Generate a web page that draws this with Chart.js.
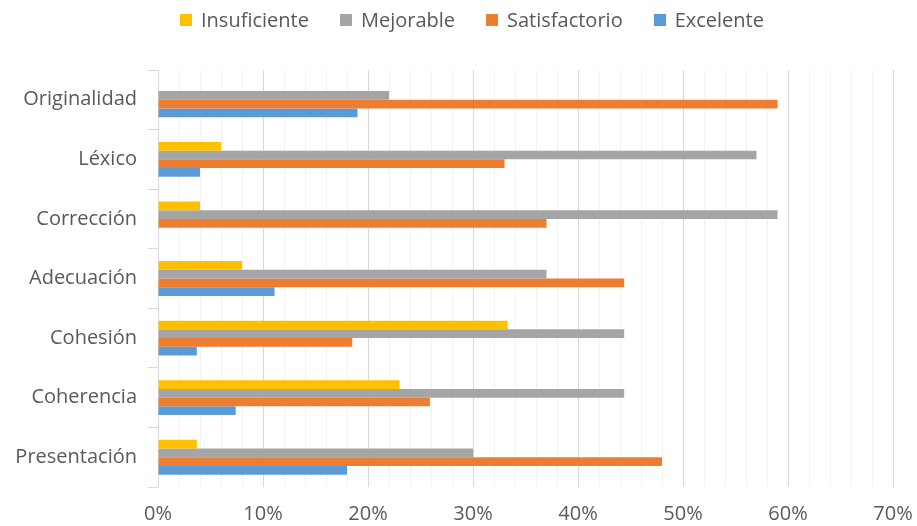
<!DOCTYPE html>
<html>
<head>
<meta charset="utf-8">
<script src="https://cdn.jsdelivr.net/npm/chart.js@4/dist/chart.umd.min.js"></script>
<style>
    html, body { margin: 0; padding: 0; background: #fff; }
    .wrap { position: relative; width: 917px; height: 526px; }
    .legend {
        position: absolute; top: 6px; left: 180px;
        display: flex; align-items: center; gap: 31px;
        font-family: 'Open Sans', sans-serif; font-size: 20px; color: #595959;
    }
    .legend span.item { display: flex; align-items: center; }
    .legend span.box { width: 12px; height: 12px; margin-right: 9px; display: inline-block; }
</style>
</head>
<body>
<div class="wrap">
    <div class="legend" id="legend"></div>
    <canvas id="rubricChart" width="917" height="526"></canvas>
</div>
<script>
const criterios = ['Originalidad', 'Léxico', 'Corrección', 'Adecuación', 'Cohesión', 'Coherencia', 'Presentación'];
const niveles = ['Insuficiente', 'Mejorable', 'Satisfactorio', 'Excelente'];

// percentage of texts at each level, per criterion
const insuficiente  = [0, 6, 4, 8, 33.3, 23, 3.7];
const mejorable     = [22, 57, 59, 37, 44.4, 44.4, 30];
const satisfactorio = [59, 33, 37, 44.4, 18.5, 25.9, 48];
const excelente     = [19, 4, 0, 11.1, 3.7, 7.4, 18];

const xTicks = [0, 10, 20, 30, 40, 50, 60, 70];

const colores = ['#FFC000', '#A5A5A5', '#ED7D31', '#5B9BD5'];
const series = [insuficiente, mejorable, satisfactorio, excelente];
const fuente = { family: "'Open Sans'", size: 20 };

// legend row
const legendEl = document.getElementById('legend');
niveles.forEach(function(nombre, i) {
    const item = document.createElement('span');
    item.className = 'item';
    const box = document.createElement('span');
    box.className = 'box';
    box.style.background = colores[i];
    item.appendChild(box);
    item.appendChild(document.createTextNode(nombre));
    legendEl.appendChild(item);
});

const ctx = document.getElementById('rubricChart').getContext('2d');

new Chart(ctx, {
    type: 'bar',
    data: {
        labels: criterios,
        datasets: niveles.map(function(nombre, i) {
            return {
                label: nombre,
                data: series[i],
                backgroundColor: colores[i],
                borderWidth: 0,
                barPercentage: 1,
                categoryPercentage: 0.585
            };
        })
    },
    options: {
        indexAxis: 'y',
        responsive: false,
        animation: false,
        layout: {
            padding: { top: 70, right: 24, bottom: 0, left: 0 }
        },
        plugins: {
            legend: { display: false },
            tooltip: { enabled: false }
        },
        scales: {
            x: {
                min: xTicks[0],
                max: xTicks[xTicks.length - 1],
                afterFit: function(scale) {
                    scale.height = 39;
                    // keep the "70%" label from shrinking the plot
                    scale.paddingRight = 0;
                },
                ticks: {
                    stepSize: 2,
                    autoSkip: false,
                    maxRotation: 0,
                    minRotation: 0,
                    padding: 15,
                    color: '#595959',
                    font: fuente,
                    callback: function(value) {
                        return xTicks.includes(value) ? value + '%' : '';
                    }
                },
                grid: {
                    drawTicks: false,
                    color: function(c) {
                        return c.tick && c.tick.value % 10 === 0 ? '#d9d9d9' : '#f2f2f2';
                    }
                },
                border: { display: false }
            },
            y: {
                afterFit: function(scale) { scale.width = 158; },
                ticks: {
                    padding: 11,
                    color: '#595959',
                    font: fuente
                },
                grid: {
                    drawOnChartArea: false,
                    drawTicks: true,
                    tickLength: 10,
                    color: '#d9d9d9'
                },
                border: { color: '#d9d9d9' }
            }
        }
    }
});
</script>
</body>
</html>
